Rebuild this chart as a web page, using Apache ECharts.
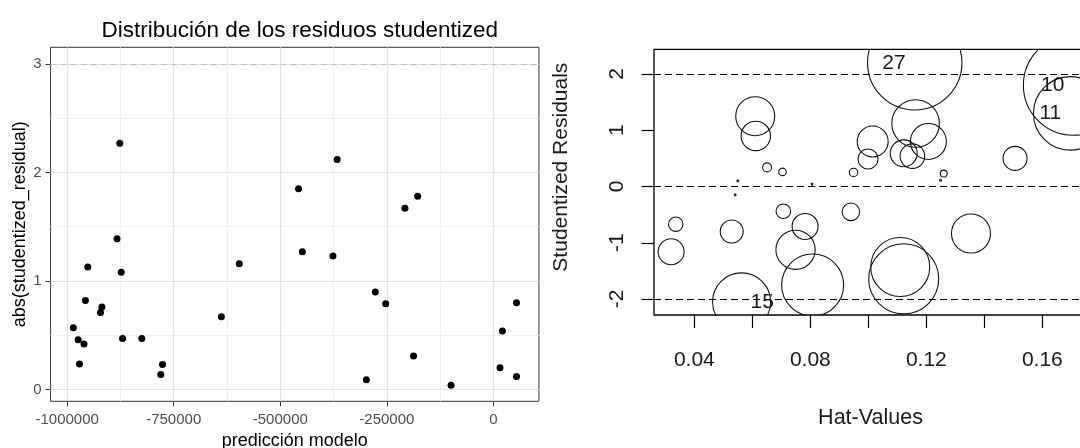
<!DOCTYPE html>
<html>
<head>
<meta charset="utf-8">
<script src="https://cdn.jsdelivr.net/npm/echarts@6/dist/echarts.min.js"></script>
<style>
html,body{margin:0;padding:0;background:#fff;}
#chart{width:1080px;height:448px;}
</style>
</head>
<body>
<div id="chart"></div>
<script>
// ---- Left panel: |studentized residual| vs model prediction ----
const predModelo = [-876500,-457200,-366700,-207600,-177700,-883000,-951600,-873200,-957200,-918500,-921700,-985500,-974200,-960500,-971000,-870000,-824800,-776300,-780300,-638200,-596200,-448300,-376400,-277100,-252800,-298100,-187400,-99400,15300,21000,54100,54100];
const absStudRes = [2.27,1.85,2.12,1.67,1.78,1.39,1.13,1.08,0.82,0.76,0.71,0.57,0.46,0.42,0.235,0.47,0.47,0.23,0.14,0.67,1.16,1.27,1.23,0.90,0.79,0.09,0.31,0.04,0.20,0.54,0.80,0.12];
const leftXTicks = [-1000000,-750000,-500000,-250000,0];
const leftXMinor = [-875000,-625000,-375000,-125000];
const leftYTicks = [0,1,2,3];
const leftYMinor = [0.5,1.5,2.5];
const refLineLeft = [3];

// ---- Right panel: influence plot ----
const hatValues = [0.0610,0.0612,0.0651,0.0704,0.0949,0.0550,0.0806,0.0541,0.1160,0.1163,0.1015,0.0999,0.1122,0.1152,0.1207,0.1260,0.1249,0.1506,0.1707,0.1696,0.0336,0.0320,0.0529,0.0707,0.0782,0.0749,0.0808,0.0563,0.0940,0.1354,0.1110,0.1122];
const studRes = [1.25,0.90,0.34,0.26,0.25,0.10,0.04,-0.15,2.20,1.12,0.80,0.49,0.59,0.54,0.80,0.23,0.11,0.50,1.80,1.30,-0.67,-1.16,-0.80,-0.44,-0.71,-1.125,-1.75,-2.05,-0.45,-0.835,-1.43,-1.64];
const cookD = [0.038,0.0216,0.002,0.0014,0.0018,0.00007,0.00007,0.00007,0.2228,0.0566,0.024,0.01,0.0182,0.0151,0.0324,0.0012,0.0001,0.0144,0.25,0.1347,0.0052,0.0169,0.0132,0.0053,0.0169,0.0385,0.0961,0.0841,0.0077,0.038,0.087,0.1225];
const obsLabels = ['','','','','','','','','27','','','','','','','','','','10','11','','','','','','','','15','','','',''];
const rightXTicks = [0.04,0.06,0.08,0.10,0.12,0.14,0.16];
const rightXLabels = [0.04,0.08,0.12,0.16];
const rightYTicks = [-2,-1,0,1,2];
const refLinesRight = [-2,0,2];

const FONT = '"Liberation Sans", Arial, sans-serif';
const radiusOf = c => 100 * Math.sqrt(c);

const chart = echarts.init(document.getElementById('chart'), null, {renderer:'canvas'});

const vline = (v, color, width, type) => ({xAxis: v, lineStyle:{color, width, type}});
const hline = (v, color, width, type) => ({yAxis: v, lineStyle:{color, width, type}});

const gridLinesLeft = [].concat(
  leftXMinor.map(v => vline(v,'#f0f0f0',1,'solid')),
  leftYMinor.map(v => hline(v,'#f0f0f0',1,'solid')),
  leftXTicks.map(v => vline(v,'#e3e3e3',1.2,'solid')),
  leftYTicks.map(v => hline(v,'#e3e3e3',1.2,'solid'))
);

const labelSide = {'27':'left','10':'left','11':'left','15':'right'};
const labelData = [];
obsLabels.forEach((t,i) => {
  if (t) labelData.push([hatValues[i], studRes[i], t]);
});

const option = {
  animation: false,
  backgroundColor: '#ffffff',
  textStyle: {fontFamily: FONT},
  title: {
    text: 'Distribución de los residuos studentized',
    left: 294.8, top: 14, textAlign: 'center',
    textStyle: {fontFamily: FONT, fontSize: 22.5, fontWeight: 'normal', color: '#000'}
  },
  grid: [
    {left: 50.6, top: 47.3, width: 488.3, height: 354, show: true, borderColor: '#333333', borderWidth: 1, backgroundColor: 'transparent', containLabel:false, outerBoundsMode:'none'},
    {left: 654, top: 49.3, width: 433, height: 265.7, show: true, borderColor: '#000000', borderWidth: 1.3, backgroundColor: 'transparent', containLabel:false, outerBoundsMode:'none'}
  ],
  xAxis: [
    {
      type: 'value', gridIndex: 0, min: -1038800, max: 106600, position: 'bottom',
      axisLine: {show: false, onZero: false},
      axisTick: {show: true, length: 5, customValues: leftXTicks, lineStyle: {color: '#333333', width: 1}},
      axisLabel: {customValues: leftXTicks, formatter: v => String(v), color: '#4d4d4d', fontSize: 15, margin: 11, fontFamily: FONT},
      splitLine: {show: false},
      name: 'predicción modelo', nameLocation: 'middle', nameGap: 29,
      nameTextStyle: {fontSize: 18, color: '#000', fontFamily: FONT}
    },
    {
      type: 'value', gridIndex: 1, min: 0.0261, max: 0.1754, position: 'bottom',
      axisLine: {show: false, onZero: false},
      axisTick: {show: true, length: 13, customValues: rightXTicks, lineStyle: {color: '#000', width: 1.2}},
      axisLabel: {customValues: rightXLabels, formatter: v => v.toFixed(2), color: '#1a1a1a', fontSize: 21, margin: 35, fontFamily: FONT},
      splitLine: {show: false},
      name: 'Hat-Values', nameLocation: 'middle', nameGap: 92,
      nameTextStyle: {fontSize: 21.5, color: '#1a1a1a', fontFamily: FONT}
    }
  ],
  yAxis: [
    {
      type: 'value', gridIndex: 0, min: -0.108, max: 3.153, position: 'left',
      axisLine: {show: false, onZero: false},
      axisTick: {show: true, length: 5, customValues: leftYTicks, lineStyle: {color: '#333333', width: 1}},
      axisLabel: {customValues: leftYTicks, formatter: v => String(v), color: '#4d4d4d', fontSize: 15, margin: 9, fontFamily: FONT},
      splitLine: {show: false},
      name: 'abs(studentized_residual)', nameLocation: 'middle', nameGap: 22,
      nameTextStyle: {fontSize: 18, color: '#000', fontFamily: FONT}
    },
    {
      type: 'value', gridIndex: 1, min: -2.284, max: 2.439, position: 'left',
      axisLine: {show: false, onZero: false},
      axisTick: {show: true, length: 12.5, customValues: rightYTicks, lineStyle: {color: '#000', width: 1.2}},
      axisLabel: {customValues: rightYTicks, rotate: 90, formatter: v => String(v), color: '#1a1a1a', fontSize: 21, margin: 26, fontFamily: FONT},
      splitLine: {show: false},
      name: 'Studentized Residuals', nameLocation: 'middle', nameGap: 82,
      nameTextStyle: {fontSize: 21, color: '#1a1a1a', fontFamily: FONT, padding: [0,0,0,30]}
    }
  ],
  series: [
    {
      type: 'line', xAxisIndex: 0, yAxisIndex: 0, data: [], z: 1, silent: true,
      markLine: {silent: true, symbol: 'none', label: {show: false}, animation: false, data: gridLinesLeft}
    },
    {
      type: 'line', xAxisIndex: 0, yAxisIndex: 0, data: [], z: 2, silent: true,
      markLine: {silent: true, symbol: 'none', label: {show: false}, animation: false,
        data: refLineLeft.map(v => hline(v,'#bdbdbd',1,[6,4]))}
    },
    {
      type: 'scatter', xAxisIndex: 0, yAxisIndex: 0, z: 5,
      symbol: 'circle', symbolSize: 7,
      itemStyle: {color: '#000', opacity: 1},
      data: predModelo.map((x,i) => [x, absStudRes[i]])
    },
    {
      type: 'line', xAxisIndex: 1, yAxisIndex: 1, data: [], z: 2, silent: true,
      markLine: {silent: true, symbol: 'none', label: {show: false}, animation: false,
        data: refLinesRight.map(v => hline(v,'#000',1.2,[7,4]))}
    },
    {
      type: 'custom', xAxisIndex: 1, yAxisIndex: 1, z: 4, clip: true, silent: true,
      data: hatValues.map((h,i) => [h, studRes[i], cookD[i]]),
      encode: {x: 0, y: 1},
      renderItem: (params, api) => {
        const c = api.coord([api.value(0), api.value(1)]);
        return {type: 'circle', shape: {cx: c[0], cy: c[1], r: radiusOf(api.value(2))},
          style: {fill: 'none', stroke: '#111', lineWidth: 1.1}};
      }
    },
    {
      type: 'custom', xAxisIndex: 1, yAxisIndex: 1, z: 6, clip: false, silent: true,
      data: labelData,
      encode: {x: 0, y: 1},
      renderItem: (params, api) => {
        const c = api.coord([api.value(0), api.value(1)]);
        const t = labelData[params.dataIndex][2];
        const side = labelSide[t];
        return {type: 'text', x: side === 'left' ? c[0] - 9 : c[0] + 9, y: c[1],
          style: {text: t, textAlign: side === 'left' ? 'right' : 'left', textVerticalAlign: 'middle',
            fill: '#1a1a1a', font: '21px ' + FONT}};
      }
    }
  ]
};
chart.setOption(option);
</script>
</body>
</html>
